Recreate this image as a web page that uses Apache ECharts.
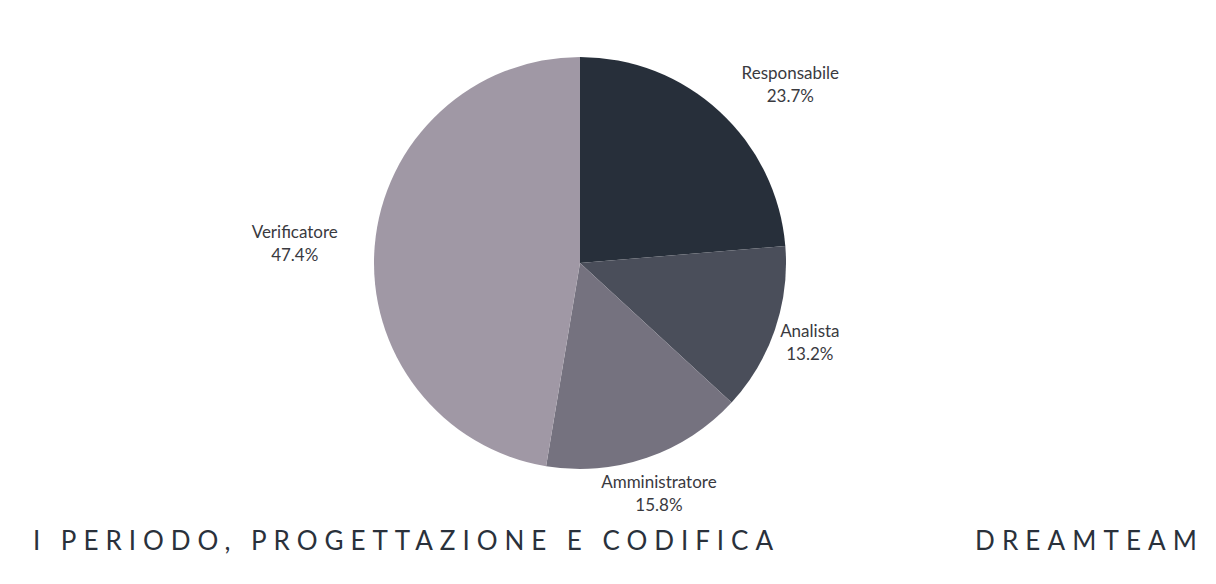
<!DOCTYPE html>
<html>
<head>
<meta charset="utf-8">
<script src="https://cdn.jsdelivr.net/npm/echarts@6/dist/echarts.min.js"></script>
<style>
  html, body { margin: 0; padding: 0; background: #ffffff; }
  #chart { width: 1216px; height: 584px; position: absolute; left: 0; top: 0; }
  .foot { position: absolute; top: 525px; font-family: Lato, sans-serif; font-size: 26px;
          color: #2a313b; white-space: nowrap; line-height: 31px; }
</style>
</head>
<body>
<div id="chart"></div>
<div class="foot" id="footL">I PERIODO, PROGETTAZIONE E CODIFICA</div>
<div class="foot" id="footR">DREAMTEAM</div>
<script>
const categories = ['Responsabile', 'Analista', 'Amministratore', 'Verificatore'];
const values = [9, 5, 6, 18];
const colors = ['#272f3a', '#4a4e5a', '#75727f', '#a098a5'];
const footerLeft = 'I PERIODO, PROGETTAZIONE E CODIFICA';
const footerRight = 'DREAMTEAM';

// footer text: spread letters to span the same width as the reference
function spread(id, text, x0, x1) {
  const el = document.getElementById(id);
  el.textContent = text;
  const ctx = document.createElement('canvas').getContext('2d');
  ctx.font = '26px Lato';
  const natural = ctx.measureText(text).width;
  const ls = (x1 - x0 - natural) / (text.length - 1);
  el.style.letterSpacing = ls + 'px';
  el.style.left = x0 + 'px';
}
spread('footL', footerLeft, 33, 773);
spread('footR', footerRight, 975, 1197);

const chart = echarts.init(document.getElementById('chart'), null, { renderer: 'svg' });
const CX = 580, CY = 263, R = 206, LABEL_R = 240;

const data = categories.map((c, i) => ({ name: c, value: values[i], itemStyle: { color: colors[i] } }));

chart.setOption({
  animation: false,
  series: [
    {
      type: 'pie',
      center: [CX, CY],
      radius: [0, R],
      startAngle: 90,
      clockwise: true,
      silent: true,
      data: data,
      label: { show: false },
      labelLine: { show: false },
      itemStyle: { borderWidth: 0 }
    },
    {
      type: 'pie',
      center: [CX, CY],
      radius: [R, 2 * LABEL_R - R],
      startAngle: 90,
      clockwise: true,
      silent: true,
      data: categories.map((c, i) => ({ name: c, value: values[i] })),
      itemStyle: { color: 'rgba(0,0,0,0)', borderWidth: 0 },
      label: {
        show: true,
        position: 'inside',
        formatter: function (p) { return p.name + '\n' + p.percent.toFixed(1) + '%'; },
        fontFamily: 'Lato',
        fontSize: 17,
        lineHeight: 23,
        color: '#3a3a3f'
      },
      labelLine: { show: false },
      labelLayout: function (p) {
        const r = p.labelRect;
        const nx = Math.max(r.x, Math.min(CX, r.x + r.width));
        const ny = Math.max(r.y, Math.min(CY, r.y + r.height));
        const d = Math.hypot(nx - CX, ny - CY);
        if (d < R - 4) {
          const mid = r.x + r.width / 2;
          return { x: mid > CX ? mid + r.width / 2 - 3 : mid - r.width / 2 };
        }
        return {};
      }
    }
  ]
});
</script>
</body>
</html>
